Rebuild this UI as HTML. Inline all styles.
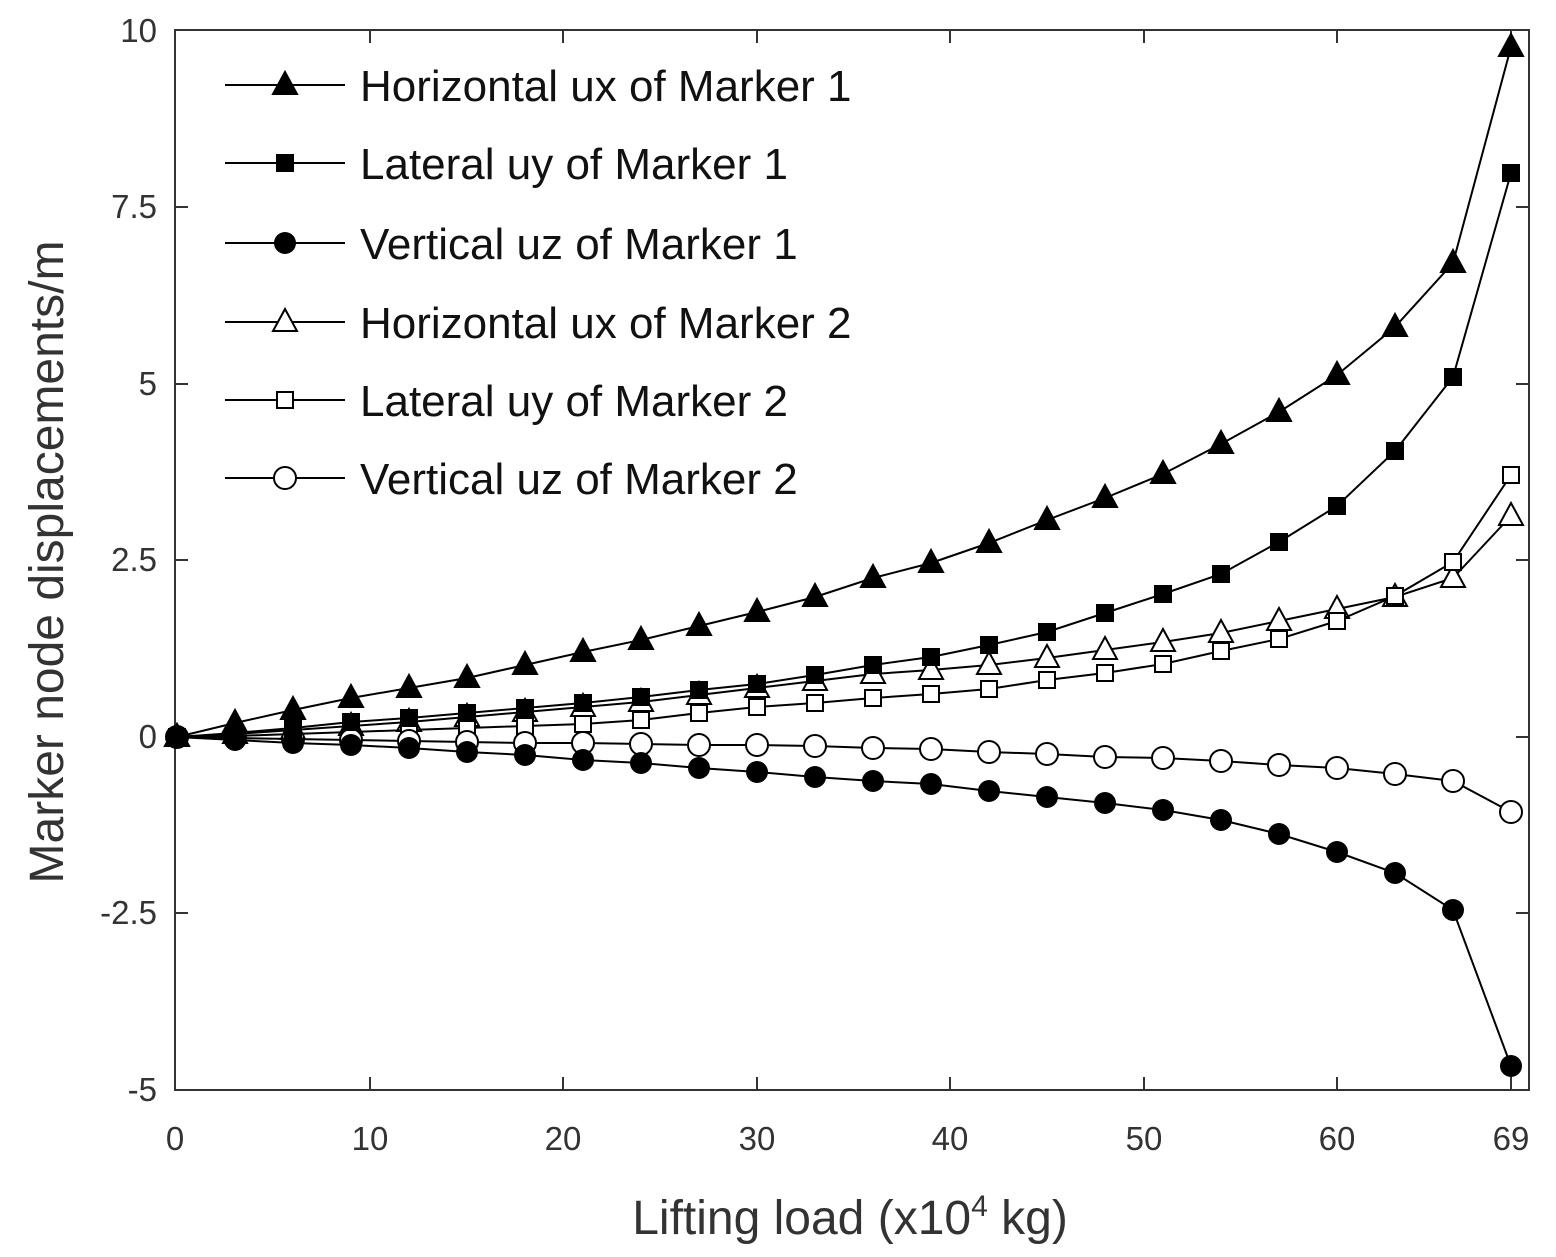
<!DOCTYPE html>
<html><head><style>body{margin:0;background:#fff}svg{display:block}</style></head><body>
<svg width="1556" height="1257" viewBox="0 0 1556 1257" xmlns="http://www.w3.org/2000/svg" font-family="Liberation Sans, sans-serif">
<rect width="1556" height="1257" fill="#fff"/>
<defs>
<marker id="mtf" markerUnits="userSpaceOnUse" markerWidth="40" markerHeight="40" refX="20" refY="20" overflow="visible"><path d="M20,7 L32,29 L8,29 Z" fill="#000" stroke="#000" stroke-width="2"/></marker>
<marker id="msf" markerUnits="userSpaceOnUse" markerWidth="40" markerHeight="40" refX="20" refY="20" overflow="visible"><rect x="11" y="11" width="18" height="18" fill="#000"/></marker>
<marker id="mcf" markerUnits="userSpaceOnUse" markerWidth="40" markerHeight="40" refX="20" refY="20" overflow="visible"><circle cx="20" cy="20" r="11" fill="#000"/></marker>
<marker id="mto" markerUnits="userSpaceOnUse" markerWidth="40" markerHeight="40" refX="20" refY="20" overflow="visible"><path d="M20,7 L32,29 L8,29 Z" fill="#fff" stroke="#000" stroke-width="2"/></marker>
<marker id="mso" markerUnits="userSpaceOnUse" markerWidth="40" markerHeight="40" refX="20" refY="20" overflow="visible"><rect x="12" y="12" width="16" height="16" fill="#fff" stroke="#000" stroke-width="2"/></marker>
<marker id="mco" markerUnits="userSpaceOnUse" markerWidth="40" markerHeight="40" refX="20" refY="20" overflow="visible"><circle cx="20" cy="20" r="11" fill="#fff" stroke="#000" stroke-width="2"/></marker>
</defs>
<rect x="175" y="30" width="1354" height="1060" fill="none" stroke="#333" stroke-width="2"/>
<g stroke="#333" stroke-width="2">
<line x1="370" y1="1090" x2="370" y2="1077"/><line x1="563" y1="1090" x2="563" y2="1077"/><line x1="757" y1="1090" x2="757" y2="1077"/><line x1="950" y1="1090" x2="950" y2="1077"/><line x1="1144" y1="1090" x2="1144" y2="1077"/><line x1="1337" y1="1090" x2="1337" y2="1077"/><line x1="1511" y1="1090" x2="1511" y2="1077"/>
<line x1="370" y1="30" x2="370" y2="43"/><line x1="563" y1="30" x2="563" y2="43"/><line x1="757" y1="30" x2="757" y2="43"/><line x1="950" y1="30" x2="950" y2="43"/><line x1="1144" y1="30" x2="1144" y2="43"/><line x1="1337" y1="30" x2="1337" y2="43"/><line x1="1511" y1="30" x2="1511" y2="43"/>
<line x1="175" y1="207" x2="188" y2="207"/><line x1="175" y1="384" x2="188" y2="384"/><line x1="175" y1="560" x2="188" y2="560"/><line x1="175" y1="737" x2="188" y2="737"/><line x1="175" y1="913" x2="188" y2="913"/>
<line x1="1529" y1="207" x2="1516" y2="207"/><line x1="1529" y1="384" x2="1516" y2="384"/><line x1="1529" y1="560" x2="1516" y2="560"/><line x1="1529" y1="737" x2="1516" y2="737"/><line x1="1529" y1="913" x2="1516" y2="913"/>
</g>
<g font-size="33" fill="#333" text-anchor="middle">
<text x="175" y="1150">0</text><text x="370" y="1150">10</text><text x="563" y="1150">20</text><text x="757" y="1150">30</text><text x="950" y="1150">40</text><text x="1144" y="1150">50</text><text x="1337" y="1150">60</text><text x="1511" y="1150">69</text>
</g>
<g font-size="33" fill="#333" text-anchor="end">
<text x="157" y="42">10</text><text x="157" y="218">7.5</text><text x="157" y="395">5</text><text x="157" y="571">2.5</text><text x="157" y="748">0</text><text x="157" y="924">-2.5</text><text x="157" y="1101">-5</text>
</g>
<text x="850" y="1234" font-size="48" fill="#333" text-anchor="middle">Lifting load (x10<tspan font-size="30" dy="-18">4</tspan><tspan dy="18"> kg)</tspan></text>
<text transform="translate(63,562) rotate(-90)" font-size="48" fill="#333" text-anchor="middle">Marker node displacements/m</text>
<g fill="none" stroke="#000" stroke-width="2">
<polyline marker-start="url(#mto)" marker-mid="url(#mto)" marker-end="url(#mto)" points="177,737 235,734 293,730 351,726 409,722 467,717 525,712 583,707 641,702 699,695 757,688 815,681 873,674 931,670 989,665 1047,658 1105,650 1163,642 1221,633 1279,621 1337,609 1395,597 1453,578 1511,516"/>
<polyline marker-start="url(#mso)" marker-mid="url(#mso)" marker-end="url(#mso)" points="177,737 235,736 293,734 351,732 409,730 467,728 525,726 583,724 641,720 699,713 757,707 815,703 873,698 931,694 989,689 1047,680 1105,673 1163,664 1221,651 1279,639 1337,621 1395,596 1453,562 1511,475"/>
<polyline marker-start="url(#mco)" marker-mid="url(#mco)" marker-end="url(#mco)" points="177,737 235,738 293,739 351,740 409,741 467,742 525,743 583,743 641,744 699,745 757,745 815,746 873,748 931,749 989,752 1047,754 1105,757 1163,758 1221,761 1279,765 1337,768 1395,774 1453,781 1511,812"/>
<polyline marker-start="url(#mcf)" marker-mid="url(#mcf)" marker-end="url(#mcf)" points="177,737 235,740 293,743 351,745 409,748 467,752 525,755 583,760 641,763 699,768 757,772 815,777 873,781 931,784 989,791 1047,797 1105,803 1163,810 1221,820 1279,834 1337,852 1395,873 1453,910 1511,1066"/>
<polyline marker-start="url(#msf)" marker-mid="url(#msf)" marker-end="url(#msf)" points="177,737 235,733 293,728 351,722 409,718 467,713 525,708 583,703 641,697 699,690 757,684 815,675 873,665 931,657 989,645 1047,632 1105,613 1163,594 1221,574 1279,542 1337,506 1395,451 1453,377 1511,173"/>
<polyline marker-start="url(#mtf)" marker-mid="url(#mtf)" marker-end="url(#mtf)" points="177,737 235,723 293,710 351,698 409,688 467,678 525,665 583,652 641,640 699,626 757,612 815,597 873,578 931,563 989,543 1047,520 1105,498 1163,474 1221,444 1279,412 1337,375 1395,327 1453,263 1511,47"/>
</g>
<g font-size="44" fill="#111">
<line x1="225" y1="85" x2="345" y2="85" stroke="#000" stroke-width="2"/><path d="M285,72 L297,94 L273,94 Z" fill="#000" stroke="#000" stroke-width="2"/><text x="360" y="101">Horizontal ux of Marker 1</text>
<line x1="225" y1="163" x2="345" y2="163" stroke="#000" stroke-width="2"/><rect x="276" y="154" width="18" height="18" fill="#000"/><text x="360" y="179">Lateral uy of Marker 1</text>
<line x1="225" y1="243" x2="345" y2="243" stroke="#000" stroke-width="2"/><circle cx="285" cy="243" r="11" fill="#000"/><text x="360" y="259">Vertical uz of Marker 1</text>
<line x1="225" y1="322" x2="345" y2="322" stroke="#000" stroke-width="2"/><path d="M285,309 L297,331 L273,331 Z" fill="#fff" stroke="#000" stroke-width="2"/><text x="360" y="338">Horizontal ux of Marker 2</text>
<line x1="225" y1="400" x2="345" y2="400" stroke="#000" stroke-width="2"/><rect x="277" y="392" width="16" height="16" fill="#fff" stroke="#000" stroke-width="2"/><text x="360" y="416">Lateral uy of Marker 2</text>
<line x1="225" y1="478" x2="345" y2="478" stroke="#000" stroke-width="2"/><circle cx="285" cy="478" r="11" fill="#fff" stroke="#000" stroke-width="2"/><text x="360" y="494">Vertical uz of Marker 2</text>
</g>
</svg>
</body></html>
